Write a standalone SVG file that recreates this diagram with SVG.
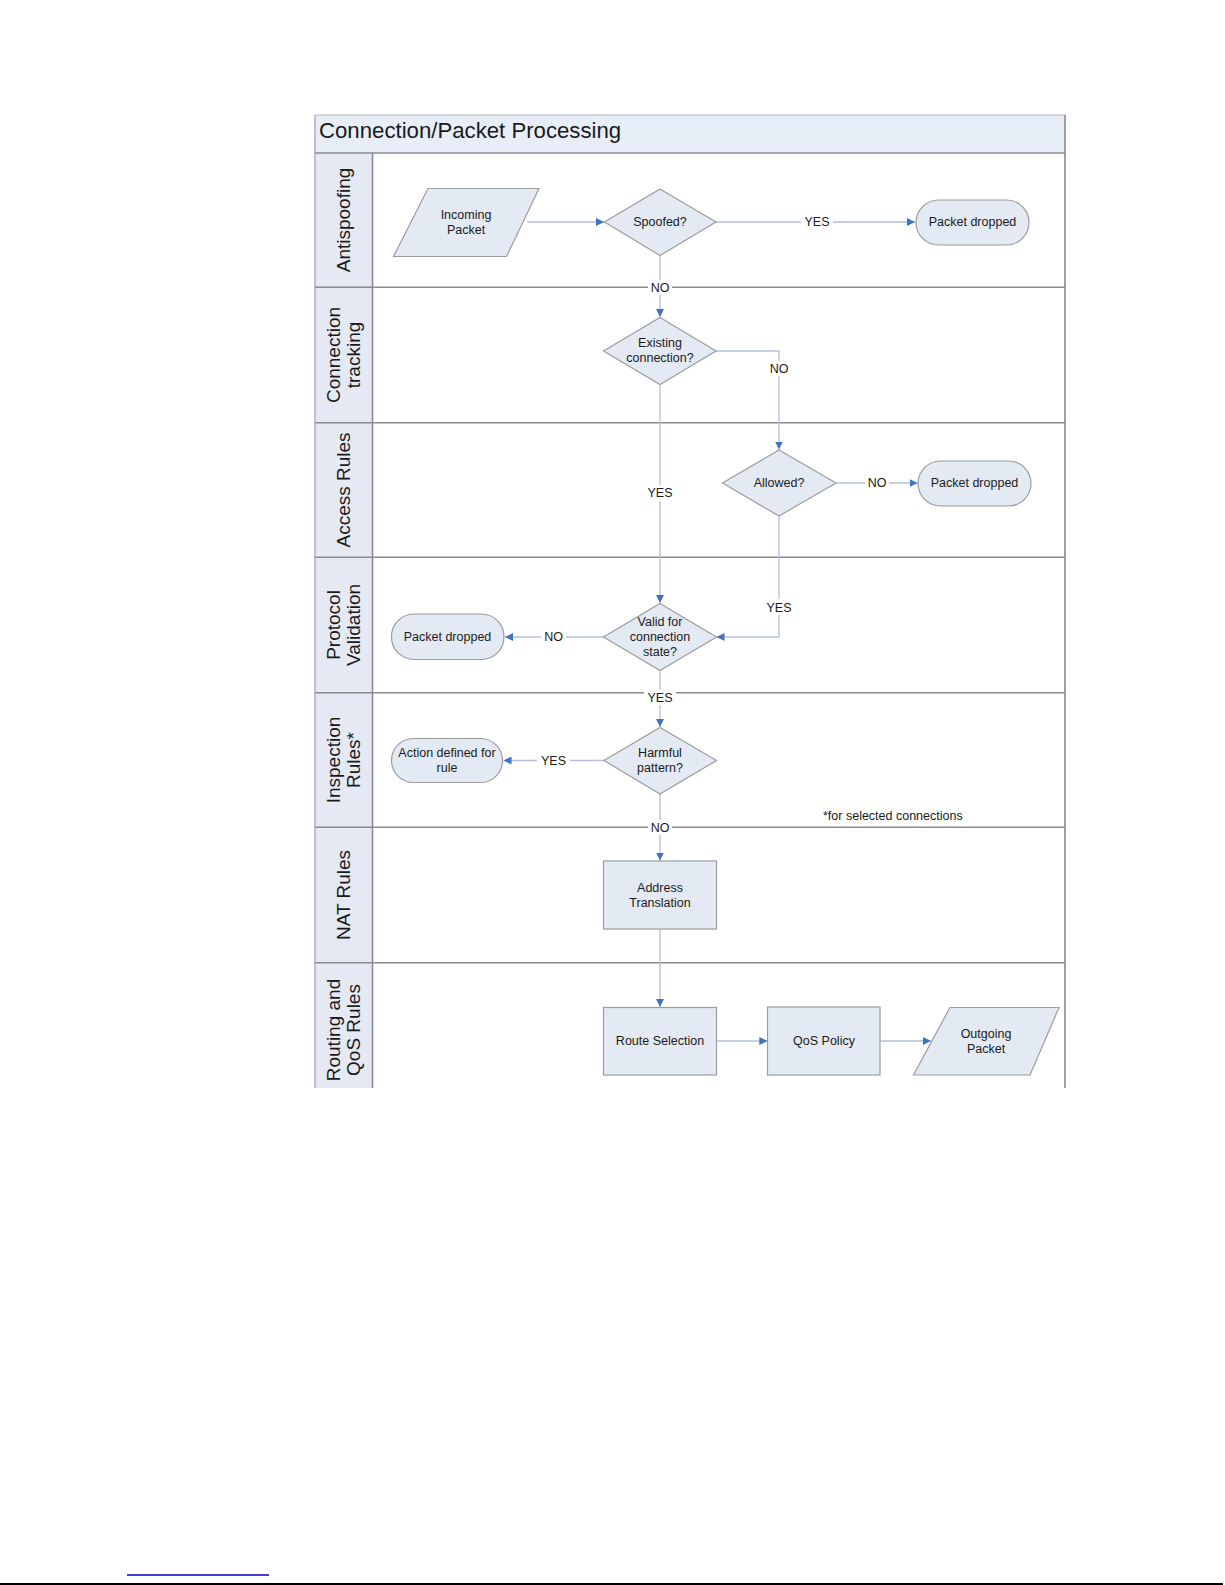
<svg xmlns="http://www.w3.org/2000/svg" width="1225" height="1585" viewBox="0 0 1225 1585">
<defs>
<style>
text{font-family:"Liberation Sans",Arial,sans-serif;fill:#1a1a1a}
.node{fill:#e4eaf4;stroke:#9c9c9c;stroke-width:1.2}
.t{font-size:12.5px;text-anchor:middle;dominant-baseline:central}
.lane{font-size:19px;text-anchor:middle;dominant-baseline:central}
.div{stroke:#8a8a8a;stroke-width:1.6;fill:none}
.conn{stroke:#b3c0dd;stroke-width:1.3;fill:none}
.lbl{font-size:12.5px;text-anchor:middle;dominant-baseline:central}
.lblbg{fill:#ffffff}
</style>
<marker id="arr" viewBox="0 0 10 10" refX="10" refY="5" markerWidth="8" markerHeight="8" markerUnits="userSpaceOnUse" orient="auto">
<path d="M0,0 L10,5 L0,10 z" fill="#3f72c0"/>
</marker>
</defs>
<rect width="1225" height="1585" fill="#ffffff"/>

<g id="swimlanes">
<rect x="315" y="115" width="750" height="38" fill="#e8eef7"/>
<text x="319" y="138" style="font-size:22.2px">Connection/Packet Processing</text>
<rect x="315" y="153" width="57.5" height="935" fill="#e4e9f3"/>
<line class="div" x1="315" y1="115" x2="1065" y2="115" style="stroke:#c8ccd4"/>
<line class="div" x1="315" y1="115" x2="315" y2="1088" style="stroke:#b0b4bc"/>
<line class="div" x1="1065" y1="115" x2="1065" y2="1088"/>
<line class="div" x1="372.5" y1="153" x2="372.5" y2="1088"/>
<line class="div" x1="315" y1="153" x2="1065" y2="153"/>
<line class="div" x1="315" y1="287.3" x2="1065" y2="287.3"/>
<line class="div" x1="315" y1="422.7" x2="1065" y2="422.7"/>
<line class="div" x1="315" y1="557.3" x2="1065" y2="557.3"/>
<line class="div" x1="315" y1="692.7" x2="1065" y2="692.7"/>
<line class="div" x1="315" y1="827.3" x2="1065" y2="827.3"/>
<line class="div" x1="315" y1="962.7" x2="1065" y2="962.7"/>
<text class="lane" transform="translate(343.5,220) rotate(-90)">Antispoofing</text>
<text class="lane" transform="translate(333.5,355) rotate(-90)">Connection</text>
<text class="lane" transform="translate(353.5,355) rotate(-90)">tracking</text>
<text class="lane" transform="translate(343.5,490) rotate(-90)">Access Rules</text>
<text class="lane" transform="translate(333.5,625) rotate(-90)">Protocol</text>
<text class="lane" transform="translate(353.5,625) rotate(-90)">Validation</text>
<text class="lane" transform="translate(333.5,760) rotate(-90)">Inspection</text>
<text class="lane" transform="translate(353.5,760) rotate(-90)">Rules*</text>
<text class="lane" transform="translate(343.5,895) rotate(-90)">NAT Rules</text>
<text class="lane" transform="translate(333.5,1030) rotate(-90)">Routing and</text>
<text class="lane" transform="translate(353.5,1030) rotate(-90)">QoS Rules</text>
</g>

<g id="connectors">
<line class="conn" x1="527" y1="222" x2="604" y2="222" marker-end="url(#arr)"/>
<line class="conn" x1="716" y1="222" x2="915" y2="222" marker-end="url(#arr)"/>
<line class="conn" x1="660" y1="255.5" x2="660" y2="317" marker-end="url(#arr)"/>
<polyline class="conn" points="716,351 779,351 779,449.5" marker-end="url(#arr)"/>
<line class="conn" x1="836" y1="483" x2="917.5" y2="483" marker-end="url(#arr)"/>
<line class="conn" x1="660" y1="384.5" x2="660" y2="603" marker-end="url(#arr)"/>
<polyline class="conn" points="779,516 779,637 716.5,637" marker-end="url(#arr)"/>
<line class="conn" x1="604" y1="637" x2="505" y2="637" marker-end="url(#arr)"/>
<line class="conn" x1="660" y1="670.5" x2="660" y2="727" marker-end="url(#arr)"/>
<line class="conn" x1="604" y1="760.5" x2="503.5" y2="760.5" marker-end="url(#arr)"/>
<line class="conn" x1="660" y1="794" x2="660" y2="860.5" marker-end="url(#arr)"/>
<line class="conn" x1="660" y1="929" x2="660" y2="1007" marker-end="url(#arr)"/>
<line class="conn" x1="716.7" y1="1041" x2="767.3" y2="1041" marker-end="url(#arr)"/>
<line class="conn" x1="880" y1="1041" x2="931" y2="1041" marker-end="url(#arr)"/>
<rect class="lblbg" x="801" y="214" width="32" height="16"/>
<text class="lbl" x="817" y="222">YES</text>
<rect class="lblbg" x="648" y="280" width="24" height="15"/>
<text class="lbl" x="660" y="287.5">NO</text>
<rect class="lblbg" x="767" y="361" width="24" height="15"/>
<text class="lbl" x="779" y="368.5">NO</text>
<rect class="lblbg" x="865" y="475" width="24" height="16"/>
<text class="lbl" x="877" y="483">NO</text>
<rect class="lblbg" x="644" y="485" width="32" height="16"/>
<text class="lbl" x="660" y="493">YES</text>
<rect class="lblbg" x="763" y="599" width="32" height="16"/>
<text class="lbl" x="779" y="607.5">YES</text>
<rect class="lblbg" x="541" y="629" width="25" height="16"/>
<text class="lbl" x="553.5" y="637">NO</text>
<rect class="lblbg" x="644" y="690" width="32" height="15"/>
<text class="lbl" x="660" y="697.5">YES</text>
<rect class="lblbg" x="537" y="752" width="33" height="16"/>
<text class="lbl" x="553.5" y="760.5">YES</text>
<rect class="lblbg" x="648" y="820" width="24" height="15"/>
<text class="lbl" x="660" y="827.5">NO</text>
</g>

<g id="incoming-packet">
<polygon class="node" points="428,188.5 539,188.5 506.5,256.5 393.5,256.5"/>
<text class="t" x="466" y="214.5">Incoming</text>
<text class="t" x="466" y="229.5">Packet</text>
</g>
<g id="spoofed">
<polygon class="node" points="660,189 716,222 660,255.5 604.5,222"/>
<text class="t" x="660" y="222">Spoofed?</text>
</g>
<g id="packet-dropped-1">
<rect class="node" x="916" y="200" width="113" height="45" rx="22.5"/>
<text class="t" x="972.5" y="222">Packet dropped</text>
</g>
<g id="existing-connection">
<polygon class="node" points="660,317.5 716,351 660,384.5 603.5,351"/>
<text class="t" x="660" y="343">Existing</text>
<text class="t" x="660" y="358">connection?</text>
</g>
<g id="allowed">
<polygon class="node" points="779,450 836,483 779,516 722.5,483"/>
<text class="t" x="779" y="483">Allowed?</text>
</g>
<g id="packet-dropped-2">
<rect class="node" x="918" y="461" width="113" height="45" rx="22.5"/>
<text class="t" x="974.5" y="483">Packet dropped</text>
</g>
<g id="valid-state">
<polygon class="node" points="660,603.5 716.5,637 660,670.5 603.5,637"/>
<text class="t" x="660" y="621.5">Valid for</text>
<text class="t" x="660" y="636.5">connection</text>
<text class="t" x="660" y="651.5">state?</text>
</g>
<g id="packet-dropped-3">
<rect class="node" x="391.5" y="614" width="112.5" height="45.5" rx="22.5"/>
<text class="t" x="447.5" y="636.5">Packet dropped</text>
</g>
<g id="harmful-pattern">
<polygon class="node" points="660,727.5 716.5,760.5 660,794 604,760.5"/>
<text class="t" x="660" y="752.5">Harmful</text>
<text class="t" x="660" y="767.5">pattern?</text>
</g>
<g id="action-defined">
<rect class="node" x="391.5" y="738.5" width="111" height="44" rx="22"/>
<text class="t" x="447" y="752.5">Action defined for</text>
<text class="t" x="447" y="767.5">rule</text>
</g>
<g id="footnote">
<text x="823" y="816" style="font-size:12.5px;dominant-baseline:central">*for selected connections</text>
</g>
<g id="address-translation">
<rect class="node" x="603.5" y="861" width="113" height="68"/>
<text class="t" x="660" y="887.5">Address</text>
<text class="t" x="660" y="902.5">Translation</text>
</g>
<g id="route-selection">
<rect class="node" x="603.5" y="1007.5" width="113" height="67.5"/>
<text class="t" x="660" y="1041">Route Selection</text>
</g>
<g id="qos-policy">
<rect class="node" x="767.5" y="1007" width="112.5" height="68"/>
<text class="t" x="824" y="1041">QoS Policy</text>
</g>
<g id="outgoing-packet">
<polygon class="node" points="950,1007.5 1059,1007.5 1030,1075 913.5,1075"/>
<text class="t" x="986" y="1033.5">Outgoing</text>
<text class="t" x="986" y="1048.5">Packet</text>
</g>

<g id="page-footer">
<line x1="127" y1="1575" x2="269" y2="1575" stroke="#0000cc" stroke-width="1.5"/>
<line x1="0" y1="1584" x2="1223" y2="1584" stroke="#000000" stroke-width="2"/>
</g>
</svg>
